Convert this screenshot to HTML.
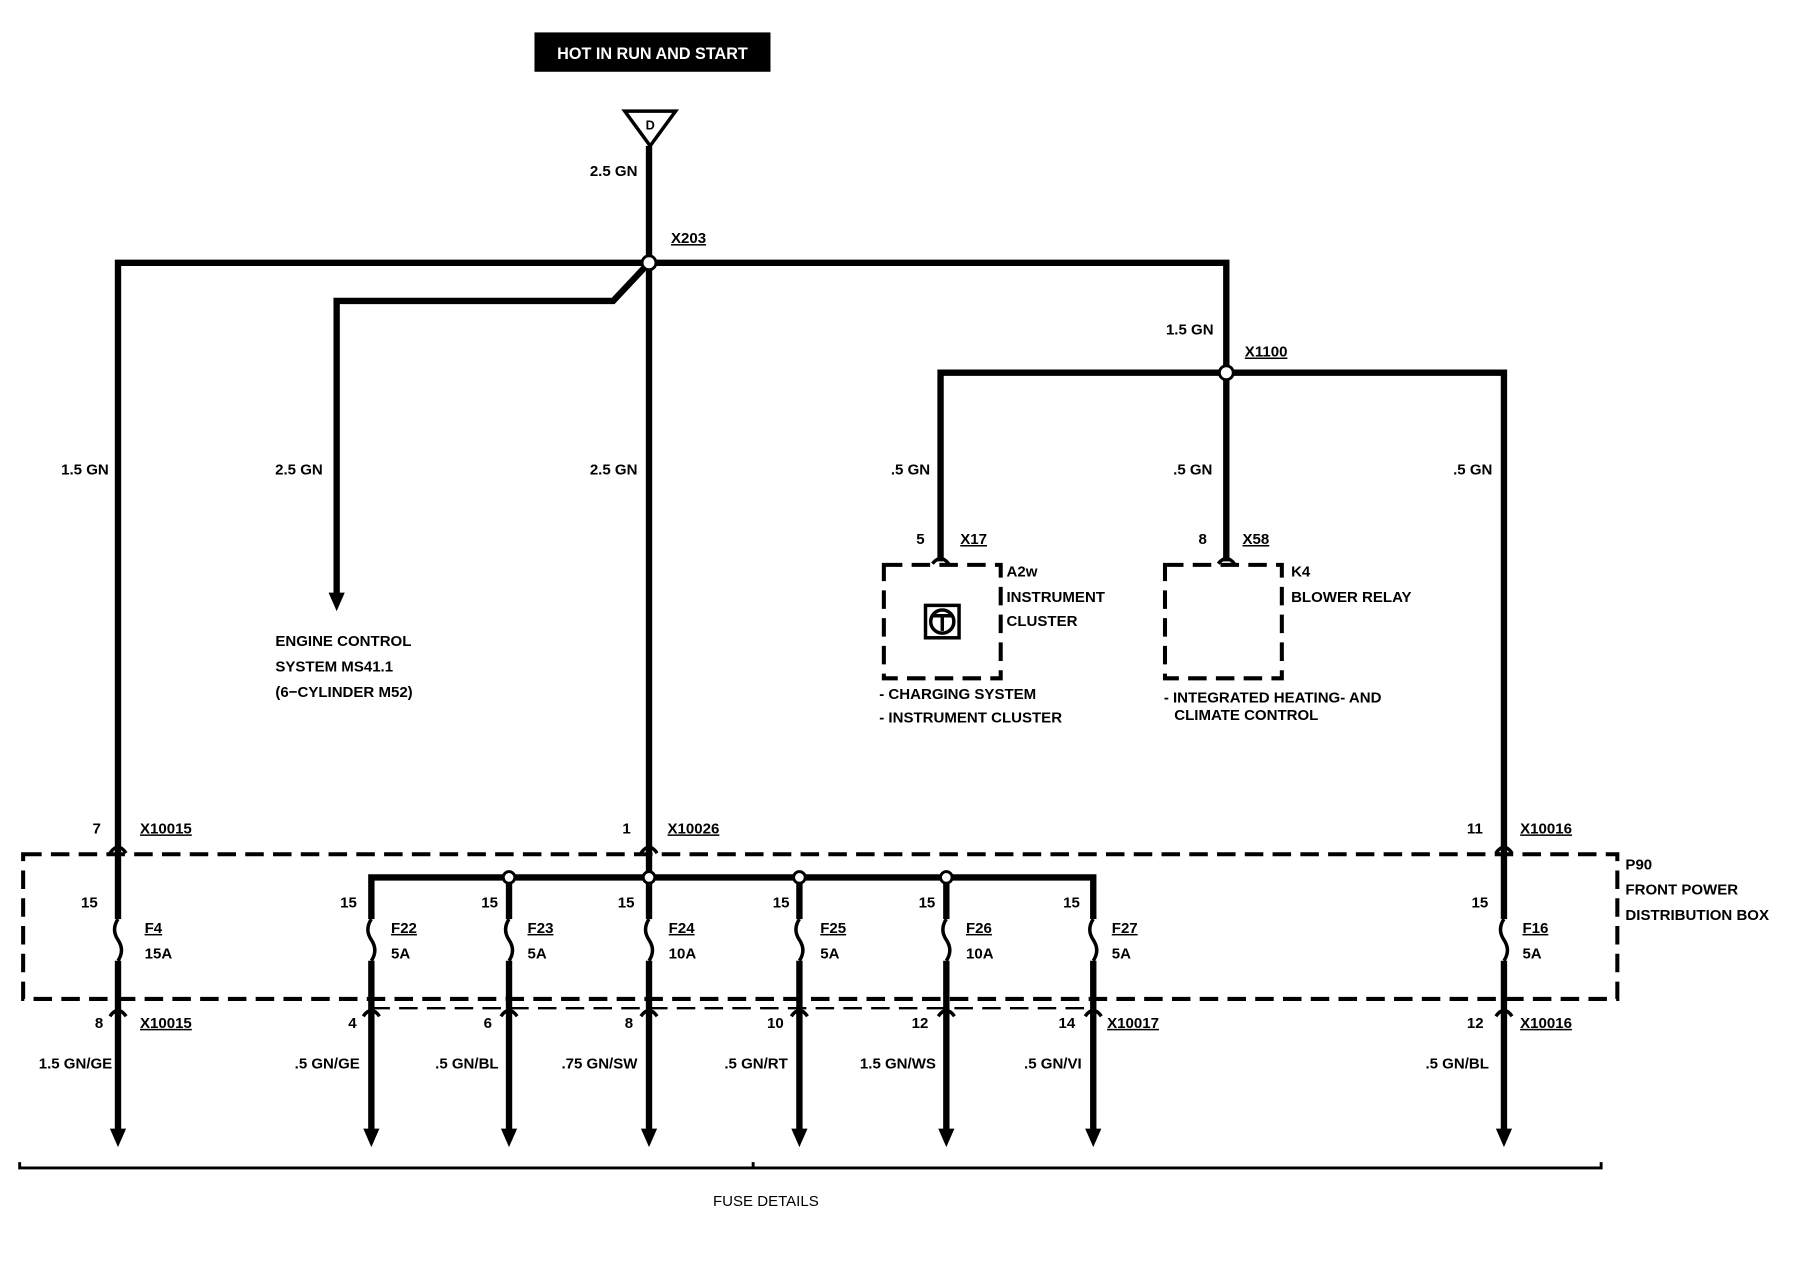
<!DOCTYPE html>
<html><head><meta charset="utf-8"><style>
html,body{margin:0;padding:0;background:#fff;}
svg{display:block}
text{font-family:"Liberation Sans",sans-serif;font-size:13px;fill:#000;font-weight:bold;}
.w{stroke:#000;stroke-width:5.5;fill:none;}
.d{stroke:#000;stroke-width:3.5;fill:none;stroke-dasharray:16,8;}
.t{stroke:#000;stroke-width:2;fill:none;}
</style></head><body>
<svg width="1814" height="1264" viewBox="0 0 1568 1092" preserveAspectRatio="none" xmlns="http://www.w3.org/2000/svg">
<rect x="462" y="28" width="204" height="34" fill="#000"/>
<text x="564" y="51" text-anchor="middle" style="fill:#fff;font-size:14px">HOT IN RUN AND START</text>
<path d="M540 96 L584 96 L562 126 Z" class="t" style="stroke-width:3"/>
<text x="562" y="112" text-anchor="middle" style="font-size:11px">D</text>
<path class="w" d="M561 126 V985"/>
<path class="w" d="M102 985 V227 H1060 V485"/>
<path class="w" d="M561 227 L530 260 H291 V515"/>
<path class="w" d="M813 485 V322 H1300 V985"/>
<circle cx="561" cy="227" r="6" fill="#fff" stroke="#000" stroke-width="2.5"/>
<circle cx="1060" cy="322" r="6" fill="#fff" stroke="#000" stroke-width="2.5"/>
<g fill="#000">
<path d="M284 512 L298 512 L291 528Z"/>
<path d="M95 975 L109 975 L102 991Z"/>
<path d="M314 975 L328 975 L321 991Z"/>
<path d="M433 975 L447 975 L440 991Z"/>
<path d="M554 975 L568 975 L561 991Z"/>
<path d="M684 975 L698 975 L691 991Z"/>
<path d="M811 975 L825 975 L818 991Z"/>
<path d="M938 975 L952 975 L945 991Z"/>
<path d="M1293 975 L1307 975 L1300 991Z"/>
</g>
<text x="551" y="152" text-anchor="end">2.5 GN</text>
<text x="580" y="210" text-decoration="underline">X203</text>
<text x="1049" y="289" text-anchor="end">1.5 GN</text>
<text x="1076" y="308" text-decoration="underline">X1100</text>
<text x="94" y="410" text-anchor="end">1.5 GN</text>
<text x="279" y="410" text-anchor="end">2.5 GN</text>
<text x="551" y="410" text-anchor="end">2.5 GN</text>
<text x="804" y="410" text-anchor="end">.5 GN</text>
<text x="1048" y="410" text-anchor="end">.5 GN</text>
<text x="1290" y="410" text-anchor="end">.5 GN</text>
<text x="238" y="558">ENGINE CONTROL</text>
<text x="238" y="580">SYSTEM MS41.1</text>
<text x="238" y="602">(6−CYLINDER M52)</text>
<text x="792" y="470">5</text>
<text x="830" y="470" text-decoration="underline">X17</text>
<path class="t" d="M806 487 Q813 478 820 487" style="stroke-width:3"/>
<rect x="764" y="488" width="101" height="98" class="d"/>
<rect x="800" y="523" width="29" height="28" fill="#fff" stroke="#000" stroke-width="3"/>
<circle cx="814.5" cy="537" r="10" fill="none" stroke="#000" stroke-width="3"/>
<path d="M806 532 L823 532 M814.5 532 L814.5 545" stroke="#000" stroke-width="3"/>
<text x="870" y="498">A2w</text>
<text x="870" y="520">INSTRUMENT</text>
<text x="870" y="541">CLUSTER</text>
<text x="760" y="604">- CHARGING SYSTEM</text>
<text x="760" y="624">- INSTRUMENT CLUSTER</text>
<text x="1036" y="470">8</text>
<text x="1074" y="470" text-decoration="underline">X58</text>
<path class="t" d="M1053 487 Q1060 478 1067 487" style="stroke-width:3"/>
<rect x="1007" y="488" width="101" height="98" class="d"/>
<text x="1116" y="498">K4</text>
<text x="1116" y="520">BLOWER RELAY</text>
<text x="1006" y="607">- INTEGRATED HEATING- AND</text>
<text x="1015" y="622">CLIMATE CONTROL</text>
<text x="80" y="720">7</text>
<text x="121" y="720" text-decoration="underline">X10015</text>
<text x="538" y="720">1</text>
<text x="577" y="720" text-decoration="underline">X10026</text>
<text x="1268" y="720">11</text>
<text x="1314" y="720" text-decoration="underline">X10016</text>
<g class="t" style="stroke-width:3">
<path d="M95 737 Q102 727 109 737"/><path d="M554 737 Q561 727 568 737"/><path d="M1293 737 Q1300 727 1307 737"/>
</g>
<rect x="20" y="738" width="1378" height="125" class="d"/>
<text x="1405" y="751">P90</text>
<text x="1405" y="773">FRONT POWER</text>
<text x="1405" y="795">DISTRIBUTION BOX</text>
<path class="w" d="M321 985 V758 H945 V985 M440 758 V985 M691 758 V985 M818 758 V985"/>
<g fill="#fff" stroke="#000" stroke-width="2.5">
<circle cx="440" cy="758" r="5"/><circle cx="561" cy="758" r="5"/><circle cx="691" cy="758" r="5"/><circle cx="818" cy="758" r="5"/>
</g>
<path class="d" d="M321 871 H945" style="stroke-width:2"/>
<g fill="#fff" stroke="none">
<rect x="96" y="794" width="12" height="36"/><rect x="315" y="794" width="12" height="36"/><rect x="434" y="794" width="12" height="36"/><rect x="555" y="794" width="12" height="36"/><rect x="685" y="794" width="12" height="36"/><rect x="812" y="794" width="12" height="36"/><rect x="939" y="794" width="12" height="36"/><rect x="1294" y="794" width="12" height="36"/>
</g>
<g stroke="#000" stroke-width="3" fill="none">
<path d="M102 794 q-6 9 0 18 q6 9 0 18"/><path d="M321 794 q-6 9 0 18 q6 9 0 18"/><path d="M440 794 q-6 9 0 18 q6 9 0 18"/><path d="M561 794 q-6 9 0 18 q6 9 0 18"/><path d="M691 794 q-6 9 0 18 q6 9 0 18"/><path d="M818 794 q-6 9 0 18 q6 9 0 18"/><path d="M945 794 q-6 9 0 18 q6 9 0 18"/><path d="M1300 794 q-6 9 0 18 q6 9 0 18"/>
</g>
<g>
<text x="70" y="784">15</text><text x="294" y="784">15</text><text x="416" y="784">15</text><text x="534" y="784">15</text><text x="668" y="784">15</text><text x="794" y="784">15</text><text x="919" y="784">15</text><text x="1272" y="784">15</text>
<text x="125" y="806" text-decoration="underline">F4</text><text x="125" y="828">15A</text>
<text x="338" y="806" text-decoration="underline">F22</text><text x="338" y="828">5A</text>
<text x="456" y="806" text-decoration="underline">F23</text><text x="456" y="828">5A</text>
<text x="578" y="806" text-decoration="underline">F24</text><text x="578" y="828">10A</text>
<text x="709" y="806" text-decoration="underline">F25</text><text x="709" y="828">5A</text>
<text x="835" y="806" text-decoration="underline">F26</text><text x="835" y="828">10A</text>
<text x="961" y="806" text-decoration="underline">F27</text><text x="961" y="828">5A</text>
<text x="1316" y="806" text-decoration="underline">F16</text><text x="1316" y="828">5A</text>
</g>
<g class="t" style="stroke-width:3">
<path d="M95 878 Q102 868 109 878"/><path d="M314 878 Q321 868 328 878"/><path d="M433 878 Q440 868 447 878"/><path d="M554 878 Q561 868 568 878"/><path d="M684 878 Q691 868 698 878"/><path d="M811 878 Q818 868 825 878"/><path d="M938 878 Q945 868 952 878"/><path d="M1293 878 Q1300 868 1307 878"/>
</g>
<text x="82" y="888">8</text><text x="121" y="888" text-decoration="underline">X10015</text>
<text x="301" y="888">4</text><text x="418" y="888">6</text><text x="540" y="888">8</text><text x="663" y="888">10</text><text x="788" y="888">12</text><text x="915" y="888">14</text>
<text x="957" y="888" text-decoration="underline">X10017</text>
<text x="1268" y="888">12</text><text x="1314" y="888" text-decoration="underline">X10016</text>
<text x="97" y="923" text-anchor="end">1.5 GN/GE</text>
<text x="311" y="923" text-anchor="end">.5 GN/GE</text>
<text x="431" y="923" text-anchor="end">.5 GN/BL</text>
<text x="551" y="923" text-anchor="end">.75 GN/SW</text>
<text x="681" y="923" text-anchor="end">.5 GN/RT</text>
<text x="809" y="923" text-anchor="end">1.5 GN/WS</text>
<text x="935" y="923" text-anchor="end">.5 GN/VI</text>
<text x="1287" y="923" text-anchor="end">.5 GN/BL</text>
<path d="M17 1004 V1009 H1384 V1004 M651 1009 V1004" stroke="#000" stroke-width="2.5" fill="none"/>
<text x="662" y="1042" text-anchor="middle" style="font-weight:normal">FUSE DETAILS</text>
</svg>
</body></html>
